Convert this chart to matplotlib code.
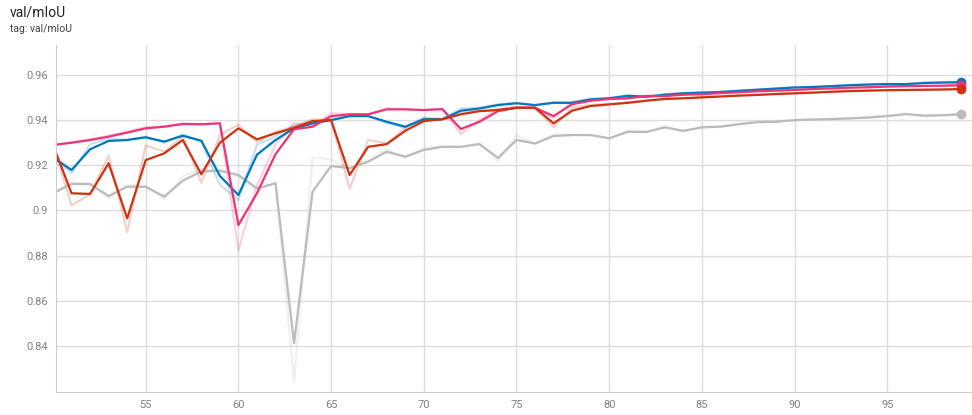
import matplotlib
matplotlib.use("Agg")
import matplotlib.pyplot as plt

plt.rcParams['font.family'] = ['Roboto', 'DejaVu Sans']

# steps 50..99
steps = list(range(50, 100))

# smoothed values (thick lines)
blue_smooth = [0.9235, 0.9179, 0.9271, 0.9308, 0.9312, 0.9324, 0.9305, 0.9331, 0.9309, 0.9153,
               0.9068, 0.9247, 0.9312, 0.9364, 0.9386, 0.9400, 0.9418, 0.9418, 0.9393, 0.9371,
               0.9404, 0.9404, 0.9442, 0.9452, 0.9467, 0.9475, 0.9467, 0.9477, 0.9477, 0.9492,
               0.9497, 0.9508, 0.9504, 0.9513, 0.9519, 0.9522, 0.9525, 0.9530, 0.9535, 0.9540,
               0.9545, 0.9547, 0.9551, 0.9555, 0.9558, 0.9560, 0.9560, 0.9565, 0.9567, 0.9568]
pink_smooth = [0.9290, 0.9300, 0.9312, 0.9327, 0.9345, 0.9364, 0.9371, 0.9383, 0.9382, 0.9386,
               0.8935, 0.9076, 0.9249, 0.9360, 0.9371, 0.9418, 0.9426, 0.9426, 0.9448, 0.9448,
               0.9445, 0.9449, 0.9361, 0.9393, 0.9440, 0.9455, 0.9455, 0.9418, 0.9471, 0.9486,
               0.9494, 0.9497, 0.9507, 0.9507, 0.9513, 0.9515, 0.9520, 0.9524, 0.9528, 0.9531,
               0.9534, 0.9538, 0.9541, 0.9544, 0.9546, 0.9549, 0.9551, 0.9552, 0.9553, 0.9555]
red_smooth = [0.9290, 0.9076, 0.9073, 0.9209, 0.8965, 0.9223, 0.9253, 0.9312, 0.9160, 0.9300,
              0.9364, 0.9315, 0.9342, 0.9366, 0.9396, 0.9400, 0.9157, 0.9282, 0.9294, 0.9353,
              0.9396, 0.9404, 0.9426, 0.9440, 0.9445, 0.9455, 0.9455, 0.9386, 0.9442, 0.9463,
              0.9470, 0.9477, 0.9486, 0.9494, 0.9497, 0.9501, 0.9505, 0.9509, 0.9512, 0.9516,
              0.9519, 0.9522, 0.9526, 0.9529, 0.9531, 0.9533, 0.9534, 0.9535, 0.9536, 0.9538]
grey_smooth = [0.9076, 0.9117, 0.9117, 0.9064, 0.9105, 0.9105, 0.9061, 0.9132, 0.9172, 0.9176,
               0.9157, 0.9098, 0.9120, 0.8411, 0.9083, 0.9197, 0.9187, 0.9216, 0.9260, 0.9238,
               0.9268, 0.9282, 0.9282, 0.9294, 0.9233, 0.9312, 0.9297, 0.9330, 0.9334, 0.9334,
               0.9320, 0.9348, 0.9348, 0.9368, 0.9353, 0.9368, 0.9371, 0.9382, 0.9391, 0.9393,
               0.9400, 0.9403, 0.9405, 0.9408, 0.9412, 0.9418, 0.9427, 0.9420, 0.9422, 0.9426]

# raw values (faint lines)
blue_raw = [0.9235, 0.9165, 0.9294, 0.9317, 0.9313, 0.9327, 0.9300, 0.9338, 0.9304, 0.9114,
            0.9047, 0.9292, 0.9328, 0.9377, 0.9392, 0.9404, 0.9423, 0.9418, 0.9387, 0.9366,
            0.9412, 0.9404, 0.9452, 0.9455, 0.9471, 0.9477, 0.9465, 0.9480, 0.9477, 0.9496,
            0.9498, 0.9511, 0.9503, 0.9515, 0.9521, 0.9523, 0.9526, 0.9531, 0.9536, 0.9541,
            0.9546, 0.9548, 0.9552, 0.9556, 0.9559, 0.9561, 0.9560, 0.9566, 0.9568, 0.9568]
pink_raw = [0.9290, 0.9303, 0.9315, 0.9331, 0.9350, 0.9369, 0.9373, 0.9386, 0.9382, 0.9387,
            0.8822, 0.9111, 0.9292, 0.9388, 0.9374, 0.9430, 0.9428, 0.9426, 0.9454, 0.9448,
            0.9444, 0.9450, 0.9339, 0.9401, 0.9452, 0.9459, 0.9455, 0.9409, 0.9484, 0.9490,
            0.9496, 0.9498, 0.9510, 0.9507, 0.9515, 0.9516, 0.9521, 0.9525, 0.9529, 0.9532,
            0.9535, 0.9539, 0.9542, 0.9545, 0.9547, 0.9550, 0.9552, 0.9552, 0.9553, 0.9556]
red_raw = [0.9290, 0.9022, 0.9072, 0.9243, 0.8904, 0.9288, 0.9261, 0.9327, 0.9122, 0.9335,
           0.9380, 0.9303, 0.9349, 0.9372, 0.9404, 0.9401, 0.9096, 0.9313, 0.9297, 0.9368,
           0.9407, 0.9406, 0.9432, 0.9444, 0.9446, 0.9458, 0.9455, 0.9369, 0.9456, 0.9468,
           0.9472, 0.9479, 0.9488, 0.9496, 0.9498, 0.9502, 0.9506, 0.9510, 0.9513, 0.9517,
           0.9520, 0.9523, 0.9527, 0.9530, 0.9532, 0.9534, 0.9534, 0.9535, 0.9536, 0.9539]
grey_raw = [0.9076, 0.9127, 0.9117, 0.9051, 0.9115, 0.9105, 0.9050, 0.9150, 0.9182, 0.9177,
            0.9152, 0.9083, 0.9126, 0.8240, 0.9235, 0.9225, 0.9185, 0.9223, 0.9271, 0.9233,
            0.9276, 0.9285, 0.9282, 0.9297, 0.9218, 0.9332, 0.9293, 0.9338, 0.9335, 0.9334,
            0.9316, 0.9355, 0.9348, 0.9373, 0.9349, 0.9372, 0.9372, 0.9385, 0.9393, 0.9394,
            0.9402, 0.9404, 0.9406, 0.9409, 0.9413, 0.9420, 0.9429, 0.9418, 0.9423, 0.9427]

y_ticks = [0.84, 0.86, 0.88, 0.9, 0.92, 0.94, 0.96]
y_labels = ["0.84", "0.86", "0.88", "0.9", "0.92", "0.94", "0.96"]
x_ticks = [55, 60, 65, 70, 75, 80, 85, 90, 95]

series = [
    (grey_raw, grey_smooth, "#bbbbbb"),
    (blue_raw, blue_smooth, "#0077bb"),
    (pink_raw, pink_smooth, "#ee3377"),
    (red_raw, red_smooth, "#cc3311"),
]

fig = plt.figure(figsize=(9.72, 4.15), dpi=100)
ax = fig.add_axes([0.0576, 0.0554, 0.9424, 0.836])

# faint raw lines first, smoothed lines on top
for raw, smooth, col in series:
    ax.plot(steps, raw, color=col, lw=1.6, alpha=0.22, solid_joinstyle="round")
for raw, smooth, col in series:
    ax.plot(steps, smooth, color=col, lw=1.6, solid_joinstyle="round")
    ax.plot(steps[-1], smooth[-1], "o", color=col, ms=6, clip_on=False, zorder=5)

ax.set_xlim(50.16, 99.57)
ax.set_ylim(0.8195, 0.9733)
ax.set_yticks(y_ticks)
ax.set_yticklabels(y_labels)
ax.set_xticks(x_ticks)
ax.grid(True, color="#dddddd", lw=1)
ax.set_axisbelow(True)
ax.tick_params(length=0, labelsize=8, colors="#808080", pad=6)
for side in ["top", "right"]:
    ax.spines[side].set_visible(False)
for side in ["left", "bottom"]:
    ax.spines[side].set_color("#cccccc")

fig.text(0.0103, 0.971, "val/mIoU", fontsize=10, color="#212121", va="center")
fig.text(0.0103, 0.929, "tag: val/mIoU", fontsize=7.5, color="#424242", va="center")

fig.savefig("out.png", dpi=100)
